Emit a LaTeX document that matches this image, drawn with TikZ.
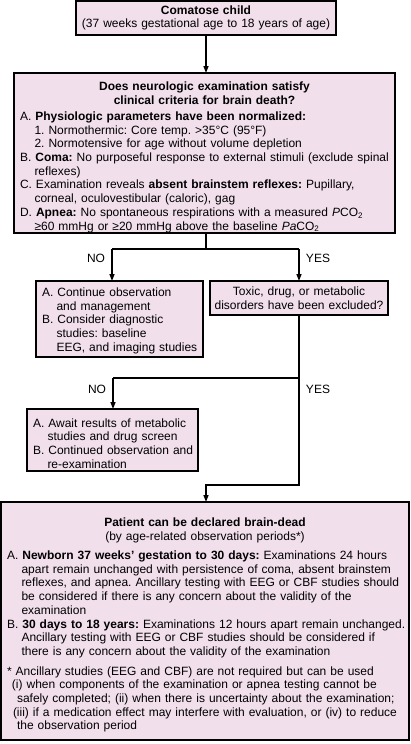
\documentclass[tikz,border=0pt]{standalone}
\usepackage{fontspec}
\setmainfont{Liberation Sans}
\usetikzlibrary{arrows.meta}
\definecolor{boxpink}{RGB}{242,223,236}
\newcommand{\Ind}{\hspace*{14.5pt}}
\newcommand{\TopStrut}[1]{\rule{0pt}{#1}}
\newcommand{\EndPad}[1]{\par\vspace{-#1}\kern0pt}
\newenvironment{lines}{\noindent\begin{tabular}[t]{@{}l@{}}}{\end{tabular}}
\frenchspacing
\begin{document}
\begin{tikzpicture}[x=1pt,y=-1pt,
  box/.style={draw=black, line width=1.4pt, fill=boxpink, inner ysep=0pt, outer sep=0pt, anchor=north west,
    font=\fontsize{12}{13.7}\selectfont\frenchspacing},
  lbl/.style={font=\fontsize{12}{13.7}\selectfont, inner sep=0pt},
  conn/.style={line width=1.3pt},
  arr/.style={conn, -{Triangle[length=7pt,width=5pt]}}]
\useasboundingbox (0,0) rectangle (411,744);

\node[box, inner xsep=4pt, text width=252pt, minimum height=34pt, align=center] (b1) at (76,1)
  {\textbf{Comatose child}\\(37 weeks gestational age to 18 years of age)};

\node[box, inner xsep=6pt, text width=369pt, minimum height=160pt] (b2) at (14,73)
  {{\centering\bfseries\TopStrut{13.7pt}Does neurologic examination satisfy\\clinical criteria for brain death?\par}
   \vspace{2.5pt}
   \begin{lines}
   A. \textbf{Physiologic parameters have been normalized:}\\
   \Ind 1. Normothermic: Core temp. >35°C (95°F)\\
   \Ind 2. Normotensive for age without volume depletion\\
   B. \textbf{Coma:} No purposeful response to external stimuli (exclude spinal\\
   \Ind reflexes)\\
   C. Examination reveals \textbf{absent brainstem reflexes:} Pupillary,\\
   \Ind corneal, oculovestibular (caloric), gag\\
   D. \textbf{Apnea:} No spontaneous respirations with a measured \textit{P}CO\textsubscript{2}\\
   \Ind ≥60 mmHg or ≥20 mmHg above the baseline \textit{Pa}CO\textsubscript{2}
   \end{lines}\EndPad{5pt}};

\node[box, inner xsep=6pt, text width=155pt, minimum height=76pt] (n1) at (36,281)
  {\begin{lines}
   \TopStrut{11.6pt}A. Continue observation\\
   \Ind and management\\
   B. Consider diagnostic\\
   \Ind studies: baseline\\
   \Ind EEG, and imaging studies
   \end{lines}\EndPad{2pt}};

\node[box, inner xsep=4pt, text width=170pt, minimum height=34pt, align=center] (tx) at (210,281)
  {Toxic, drug, or metabolic\\disorders have been excluded?};

\node[box, inner xsep=6pt, text width=159pt, minimum height=62pt] (n2) at (27,409)
  {\begin{lines}
   \TopStrut{14.6pt}A. Await results of metabolic\\
   \Ind studies and drug screen\\
   B. Continued observation and\\
   \Ind re-examination
   \end{lines}\EndPad{5pt}};

\node[box, inner xsep=6pt, text width=396pt, minimum height=238pt] (fb) at (1,502)
  {{\centering\TopStrut{13.7pt}\textbf{Patient can be declared brain-dead}\\(by age-related observation periods*)\par}
   \vspace{5.5pt}
   \begin{lines}
   A. \textbf{Newborn 37 weeks’ gestation to 30 days:} Examinations 24 hours\\
   \Ind apart remain unchanged with persistence of coma, absent brainstem\\
   \Ind reflexes, and apnea. Ancillary testing with EEG or CBF studies should\\
   \Ind be considered if there is any concern about the validity of the\\
   \Ind examination\\
   B. \textbf{30 days to 18 years:} Examinations 12 hours apart remain unchanged.\\
   \Ind Ancillary testing with EEG or CBF studies should be considered if\\
   \Ind there is any concern about the validity of the examination\\[6pt]
   * Ancillary studies (EEG and CBF) are not required but can be used\\
   \hspace*{5pt}(i) when components of the examination or apnea testing cannot be\\
   \hspace*{10pt}safely completed; (ii) when there is uncertainty about the examination;\\
   \hspace*{6pt}(iii) if a medication effect may interfere with evaluation, or (iv) to reduce\\
   \hspace*{10pt}the observation period
   \end{lines}\EndPad{5pt}};

% connectors
\coordinate (j1) at (206,249);
\coordinate (jl) at (112,249);
\coordinate (jr) at (299,249);
\coordinate (j2) at (299,378);
\coordinate (j2l) at (113,378);
\coordinate (j3) at (299,485);
\coordinate (j4) at (206,485);

\draw[arr] (b1.south) -- (b1.south |- b2.north);
\draw[conn] (b2.south -| j1) -- (j1);
\draw[conn] (jl) -- (jr);
\draw[arr] (jl) -- (jl |- n1.north);
\draw[arr] (jr) -- (jr |- tx.north);
\draw[conn] (j2) -- (j2l);
\draw[arr] (j2l) -- (j2l |- n2.north);
\draw[arr] (tx.south -| j2) -- (j3) -- (j4) -- (j4 |- fb.north);

\node[lbl] (lno1) at (96,258) {NO};
\node[lbl] (lyes1) at (318,258) {YES};
\node[lbl] (lno2) at (97,389) {NO};
\node[lbl] (lyes2) at (318,389) {YES};
\end{tikzpicture}
\end{document}
